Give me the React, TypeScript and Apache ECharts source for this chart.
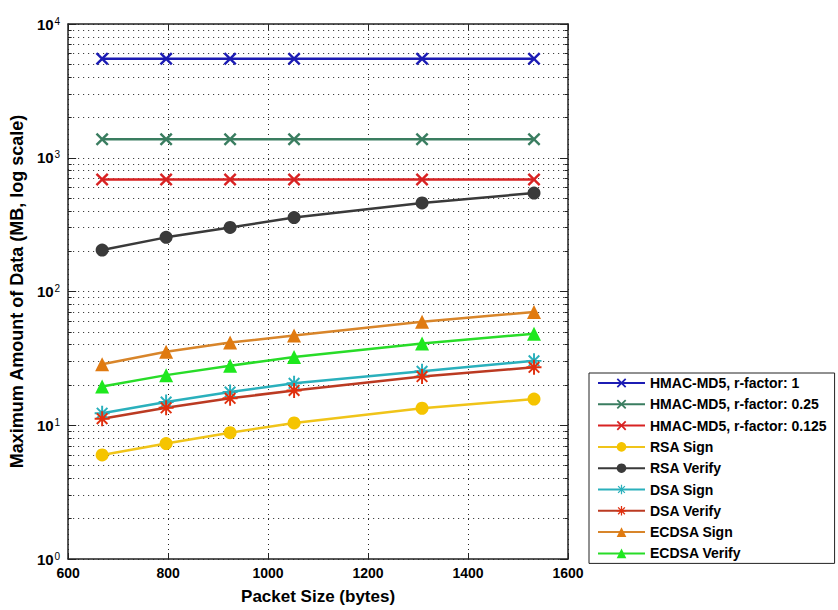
import React, { useEffect, useRef } from "react";
import * as echarts from "echarts";

const packetSizes = [668, 796, 924, 1052, 1308, 1532];
const hmacR1 = [5500, 5500, 5500, 5500, 5500, 5500];
const hmacR025 = [1375, 1375, 1375, 1375, 1375, 1375];
const hmacR0125 = [687.5, 687.5, 687.5, 687.5, 687.5, 687.5];
const rsaSign = [6.0, 7.3, 8.8, 10.4, 13.4, 15.7];
const rsaVerify = [204, 254, 301, 357, 459, 545];
const dsaSign = [12.3, 14.9, 17.7, 20.6, 25.3, 30.3];
const dsaVerify = [11.2, 13.5, 15.9, 18.2, 23.1, 27.1];
const ecdsaSign = [28.6, 35.4, 41.5, 46.8, 59.4, 70.4];
const ecdsaVerify = [19.5, 23.7, 27.9, 32.4, 40.8, 48.4];

const xTicks = [600, 800, 1000, 1200, 1400, 1600];
const yMin = 1;
const yMax = 10000;

const FONT = "Liberation Sans, Arial, sans-serif";

// marker shapes
const X_PATH = (() => {
  const t = 2.6;
  const p = [
    [0, t], [t, 0], [10, 10 - t], [20 - t, 0], [20, t], [10 + t, 10],
    [20, 20 - t], [20 - t, 20], [10, 10 + t], [t, 20], [0, 20 - t], [10 - t, 10],
  ];
  return "path://M" + p.map((q) => q.join(" ")).join(" L") + " Z";
})();

const STAR_PATH = (() => {
  const h = 1.3;
  const r = 10;
  let d = "";
  [0, 45, 90, 135].forEach((deg) => {
    const a = (deg * Math.PI) / 180;
    const ux = Math.cos(a), uy = Math.sin(a);
    const nx = -uy, ny = ux;
    const pts = [
      [10 - ux * r + nx * h, 10 - uy * r + ny * h],
      [10 + ux * r + nx * h, 10 + uy * r + ny * h],
      [10 + ux * r - nx * h, 10 + uy * r - ny * h],
      [10 - ux * r - nx * h, 10 - uy * r - ny * h],
    ];
    d += "M" + pts.map((q) => q.map((v) => v.toFixed(2)).join(" ")).join(" L") + " Z ";
  });
  return "path://" + d;
})();

type S = { name: string; data: number[]; color: string; mcolor: string; symbol: string; size: number };

const seriesDefs: S[] = [
  { name: "HMAC-MD5, r-factor: 1", data: hmacR1, color: "#1c1cb4", mcolor: "#1c1cb4", symbol: X_PATH, size: 13 },
  { name: "HMAC-MD5, r-factor: 0.25", data: hmacR025, color: "#3a7d60", mcolor: "#3a7d60", symbol: X_PATH, size: 13 },
  { name: "HMAC-MD5, r-factor: 0.125", data: hmacR0125, color: "#d82222", mcolor: "#d82222", symbol: X_PATH, size: 13 },
  { name: "RSA Sign", data: rsaSign, color: "#f0c419", mcolor: "#f5c400", symbol: "circle", size: 13 },
  { name: "RSA Verify", data: rsaVerify, color: "#3a3a3a", mcolor: "#3a3a3a", symbol: "circle", size: 13 },
  { name: "DSA Sign", data: dsaSign, color: "#2ab0bc", mcolor: "#2ab0bc", symbol: STAR_PATH, size: 15 },
  { name: "DSA Verify", data: dsaVerify, color: "#bb3a22", mcolor: "#e0300f", symbol: STAR_PATH, size: 15 },
  { name: "ECDSA Sign", data: ecdsaSign, color: "#d8852a", mcolor: "#e07a10", symbol: "triangle", size: 14 },
  { name: "ECDSA Verify", data: ecdsaVerify, color: "#28dc28", mcolor: "#1ee81e", symbol: "triangle", size: 14 },
];

const minorValues: number[] = [];
for (let d = 1; d < yMax; d *= 10) {
  for (let k = 2; k <= 9; k++) minorValues.push(d * k);
}

const gridDash = [1, 4];

export default function App() {
  const ref = useRef<HTMLDivElement>(null);
  useEffect(() => {
    if (!ref.current) return;
    const chart = echarts.init(ref.current, undefined, { renderer: "svg" });

    const gridLines: any[] = minorValues.map((v) => [
      { coord: [xTicks[0], v] },
      { coord: [xTicks[xTicks.length - 1], v] },
    ]);
    const tickLines: any[] = [];
    minorValues.forEach((v) => {
      tickLines.push([{ coord: [600, v] }, { coord: [607, v] }]);
      tickLines.push([{ coord: [1593, v] }, { coord: [1600, v] }]);
    });

    const series: any[] = seriesDefs.map((s) => ({
      name: s.name,
      type: "line",
      data: packetSizes.map((x, i) => [x, s.data[i]]),
      symbol: s.symbol,
      symbolSize: s.size,
      showSymbol: true,
      lineStyle: { color: s.color, width: 2.5 },
      itemStyle: { color: s.mcolor },
      z: 5,
    }));

    series.push({
      name: "_grid",
      type: "line",
      data: [],
      silent: true,
      z: 1,
      markLine: {
        silent: true,
        symbol: "none",
        label: { show: false },
        animation: false,
        lineStyle: { color: "#222", width: 1, type: gridDash },
        data: gridLines,
      },
    });
    series.push({
      name: "_ticks",
      type: "line",
      data: [],
      silent: true,
      z: 1,
      markLine: {
        silent: true,
        symbol: "none",
        label: { show: false },
        animation: false,
        lineStyle: { color: "#222", width: 1, type: "solid" },
        data: tickLines,
      },
    });

    const yLabel = {
      show: true,
      color: "#000",
      fontFamily: FONT,
      margin: 8,
      formatter: (v: number) => {
        const e = Math.round(Math.log10(v));
        return "{b|10}{s|" + e + "}";
      },
      rich: {
        b: { fontSize: 15, fontWeight: "bold", fontFamily: FONT, color: "#000", lineHeight: 16 },
        s: { fontSize: 10, fontFamily: FONT, color: "#000", verticalAlign: "top", lineHeight: 10, padding: [0, 0, 8, 1] },
      },
    };

    chart.setOption({
      animation: false,
      backgroundColor: "#fff",
      grid: { left: 67, top: 24, right: 270, bottom: 47, containLabel: false },
      xAxis: [
        {
          type: "value",
          min: 600,
          max: 1600,
          interval: 200,
          position: "bottom",
          name: "Packet Size (bytes)",
          nameLocation: "middle",
          nameGap: 29,
          nameTextStyle: { fontFamily: FONT, fontSize: 17, fontWeight: "bold", color: "#000" },
          axisLine: { show: true, lineStyle: { color: "#222", width: 1.5 } },
          axisTick: { show: true, inside: true, length: 6, lineStyle: { color: "#222" } },
          axisLabel: {
            color: "#000",
            fontFamily: FONT,
            fontSize: 14,
            fontWeight: "bold",
            margin: 7,
            formatter: (v: number) => String(v),
          },
          splitLine: { show: true, lineStyle: { color: "#222", width: 1, type: gridDash } },
        },
        {
          type: "value",
          min: 600,
          max: 1600,
          interval: 200,
          position: "top",
          axisLine: { show: true, lineStyle: { color: "#222", width: 1.5 } },
          axisTick: { show: true, inside: true, length: 6, lineStyle: { color: "#222" } },
          axisLabel: { show: false },
          splitLine: { show: false },
        },
      ],
      yAxis: [
        {
          type: "log",
          logBase: 10,
          min: yMin,
          max: yMax,
          position: "left",
          name: "Maximum Amount of Data (MB, log scale)",
          nameLocation: "middle",
          nameGap: 33,
          nameTextStyle: { fontFamily: FONT, fontSize: 18, fontWeight: "bold", color: "#000" },
          axisLine: { show: true, lineStyle: { color: "#222", width: 1.5 } },
          axisTick: { show: true, inside: true, length: 8, lineStyle: { color: "#222" } },
          axisLabel: yLabel,
          splitLine: { show: true, lineStyle: { color: "#222", width: 1, type: gridDash } },
        },
        {
          type: "log",
          logBase: 10,
          min: yMin,
          max: yMax,
          position: "right",
          axisLine: { show: true, lineStyle: { color: "#222", width: 1.5 } },
          axisTick: { show: true, inside: true, length: 8, lineStyle: { color: "#222" } },
          axisLabel: { show: false },
          splitLine: { show: false },
        },
      ],
      legend: {
        data: seriesDefs.map((s) => s.name),
        orient: "vertical",
        left: 589,
        top: 373,
        itemWidth: 47,
        itemHeight: 12,
        itemGap: 7.3,
        padding: [3, 8, 3, 8],
        borderColor: "#222",
        borderWidth: 1,
        backgroundColor: "#fff",
        textStyle: { fontFamily: FONT, fontSize: 14, fontWeight: "bold", color: "#000" },
      },
      series,
    });
    return () => chart.dispose();
  }, []);
  return (
    <div
      ref={ref}
      style={{ position: "fixed", left: 0, top: 0, width: 838, height: 610 }}
    />
  );
}
